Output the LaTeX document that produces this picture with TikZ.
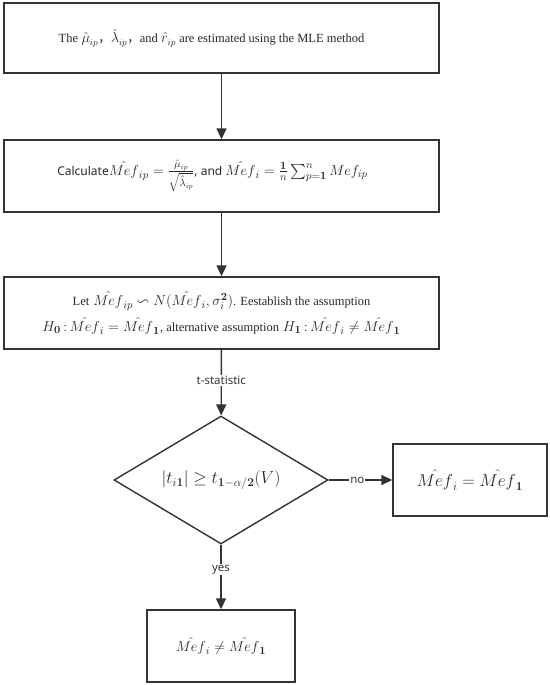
\documentclass[tikz,border=0pt]{standalone}
\usepackage{amsmath}
\usepackage{amssymb}
\usepackage[no-math]{fontspec}
\setmainfont{Liberation Serif}
\newfontfamily\labelfont{Noto Sans}
\newfontfamily\cjk{Noto Sans CJK SC}
\usetikzlibrary{shapes.geometric,arrows.meta}
\definecolor{linegray}{HTML}{333333}
\newcommand{\mef}{\hat{Mef}}
\newcommand{\txt}[1]{{\fontsize{12.5}{14}\selectfont #1}}
\newcommand{\sans}[1]{{\labelfont\fontsize{12}{14}\selectfont #1}}
\tikzset{
  box/.style={draw=linegray, line width=1.4pt, rectangle, align=center, inner sep=2pt},
  decision/.style={draw=linegray, line width=1.4pt, diamond, aspect=1.67, inner sep=0pt,
    minimum width=214pt, minimum height=128pt},
  flow/.style={draw=linegray, line width=1.4pt, -{Triangle[width=10pt,length=11pt]}},
  lbl/.style={fill=white, inner sep=1pt, font=\labelfont\fontsize{11.5}{13}\selectfont, text=linegray}
}

\begin{document}
\begin{tikzpicture}[x=1pt, y=-1pt, text=black!85]

\useasboundingbox (0,0) rectangle (549,685);

% boxes
\node[box, minimum width=435pt, minimum height=70pt, font=\fontsize{13.5}{15}\selectfont] (est) at (221.5,38)
  {\txt{The} $\hat{\mu}_{ip}${\cjk\txt{，}}$\hat{\lambda}_{ip}${\cjk\txt{，}}\txt{and} $\hat{r}_{ip}$ \txt{are estimated using the MLE method}\hspace*{20pt}};

\node[box, minimum width=435pt, minimum height=72pt, font=\fontsize{15}{17}\selectfont] (calc) at (221.5,176)
  {\sans{Calculate}$\mef_{ip}=\frac{\hat{\mu}_{ip}}{\sqrt{\hat{\lambda}_{ip}}}$\sans{, and }$\mef_i=\frac{\mathbf{1}}{n}\sum_{p=\mathbf{1}}^{n}Mef_{ip}$\hspace*{18pt}};

\node[box, minimum width=435pt, minimum height=72pt, font=\fontsize{15.5}{26}\selectfont] (hyp) at (221.5,313)
  {\txt{Let} $\mef_{ip}\backsim N(\mef_i,\sigma_i^{\mathbf{2}})$\txt{. Eestablish the assumption}\\
   $H_{\mathbf{0}}\,\mathbf{:}\,\mef_i=\mef_{\mathbf{1}}$\txt{, alternative assumption} $H_{\mathbf{1}}\,\mathbf{:}\,\mef_i\neq\mef_{\mathbf{1}}$};

% decision
\node[decision, font=\fontsize{16.5}{18}\selectfont] (test) at (221,480) {$|t_{i\mathbf{1}}|\geq t_{\mathbf{1}-\alpha/\mathbf{2}}(V)$};

\node[box, minimum width=154pt, minimum height=72pt, font=\fontsize{16.5}{18}\selectfont] (same) at (470,480) {$\mef_i=\mef_{\mathbf{1}}$};
\node[box, minimum width=148pt, minimum height=72pt, font=\fontsize{15.5}{17}\selectfont] (diff) at (221,646) {$\mef_i\neq\mef_{\mathbf{1}}$};

% connectors
\draw[flow] (est) -- (calc);
\draw[flow] (calc) -- (hyp);
\draw[flow] (hyp) -- node[lbl, pos=0.47] {t-statistic} (test);
\draw[flow] (test) -- node[lbl, pos=0.45] {no} (same);
\draw[flow] (test) -- node[lbl, pos=0.38] {yes} (diff);

\end{tikzpicture}
\end{document}
